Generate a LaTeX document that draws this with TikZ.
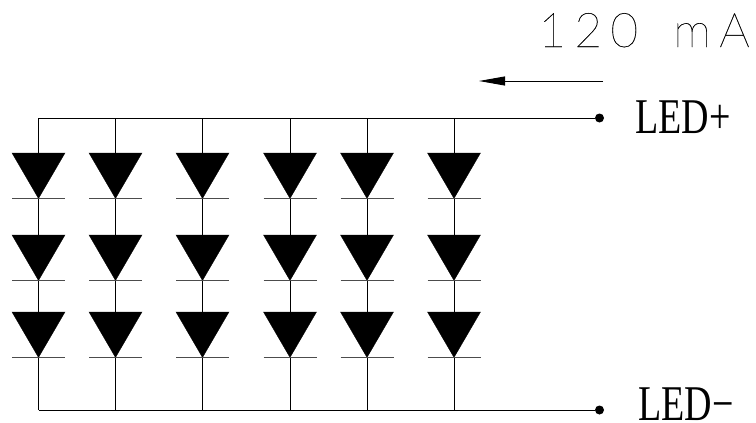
\documentclass[tikz,border=0pt]{standalone}
\usepackage{fontspec}
\usepackage{graphicx}
\usetikzlibrary{arrows.meta}
\setmainfont{Liberation Serif}
\newfontfamily\thinfont[LetterSpace=17,FakeBold=0.25,WordSpace=1.6]{Lato Hairline}
\tikzset{
  x=1pt,y=-1pt,
  wire/.style={draw=black,line width=0.95pt},
  diodebody/.style={fill=black,draw=black,line width=0.3pt},
  diodebar/.style={draw=black!70,line width=0.85pt},
  terminal/.style={circle,fill=black,inner sep=0pt,minimum size=9pt},
  ledlabel/.style={anchor=base west,inner sep=0pt},
  currentarrow/.style={draw=black,line width=0.9pt,-{Triangle[length=26pt,width=9pt]}},
}
\begin{document}
\begin{tikzpicture}
\useasboundingbox (0,0) rectangle (756,423);
\node[terminal] (tp) at (599.5,118) {};
\node[terminal] (tm) at (599.5,410) {};
\coordinate (tl) at (38.5,118);
\coordinate (bl) at (38.5,410);
\draw[wire] (tl) -- (tp);
\draw[wire] (bl) -- (tm);
\foreach \c/\x in {1/38.5,2/115.5,3/202.5,4/290,5/367,6/454}{
  \coordinate (top\c) at (\x,118);
  \coordinate (bot\c) at (\x,410);
  \foreach \r/\y in {1/153,2/235,3/312}{
    \coordinate (a\c\r) at (\x,\y);
    \coordinate (k\c\r) at (\x,\y+45.5);
    \fill[diodebody] (\x-26.5,\y) -- (\x+26.5,\y) -- (k\c\r) -- cycle;
    \draw[diodebar] (\x-26.5,\y+45.5) -- (\x+26.5,\y+45.5);
  }
  \draw[wire] (top\c) -- (a\c1);
  \draw[wire] (k\c1) -- (a\c2);
  \draw[wire] (k\c2) -- (a\c3);
  \draw[wire] (k\c3) -- (bot\c);
}
\coordinate (as) at (603,81);
\coordinate (ae) at (479,81);
\draw[currentarrow] (as) -- (ae);
\node[ledlabel] (lp) at (635,133) {\scalebox{0.76}[1]{\fontsize{50}{50}\selectfont LED+}};
\node[ledlabel] (lm) at (638,420) {\scalebox{0.76}[1]{\fontsize{50}{50}\selectfont LED\textminus}};
\node[anchor=base east,inner sep=0pt] (cur) at (750,47) {\fontsize{48}{48}\thinfont 120 mA};
\end{tikzpicture}
\end{document}
